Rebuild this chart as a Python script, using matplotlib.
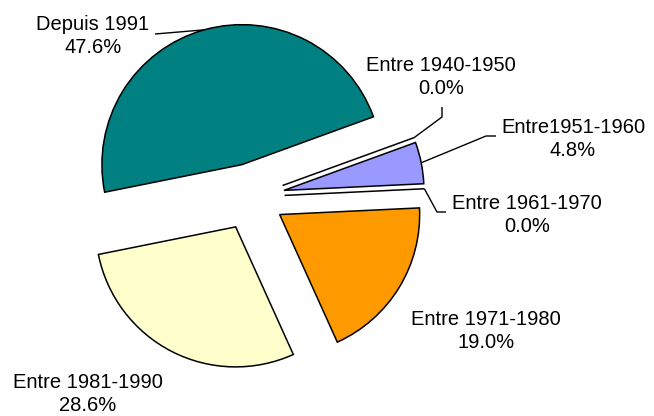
import numpy as np
import matplotlib
matplotlib.use("Agg")
import matplotlib.pyplot as plt

plt.rcParams['font.family'] = ['Liberation Sans', 'DejaVu Sans']

# Anteile je Baujahr (in %)
labels = ["Entre 1940-1950", "Entre1951-1960", "Entre 1961-1970",
          "Entre 1971-1980", "Entre 1981-1990", "Depuis 1991"]
values = [0.0, 4.8, 0.0, 19.0, 28.6, 47.6]
colors = ["#9999FF", "#9999FF", "#9999FF", "#FF9900", "#FFFFCC", "#008080"]

W, H = 654, 416
CX, CY, R = 251, 197, 140          # Mittelpunkt / Radius in Pixel
EXPL = 0.24                         # Explosion (Anteil vom Radius)
START = 20

def px(x, y):
    # Pixel -> Datenkoordinaten (Radius = 1)
    return (x - CX) / R, (CY - y) / R

fig = plt.figure(figsize=(W / 100, H / 100), dpi=100)
ax = fig.add_axes([0, 0, 1, 1])
wedges, _ = ax.pie(values, colors=colors, startangle=START, counterclock=False,
                   explode=[EXPL] * len(values), radius=1, center=(0, 0),
                   wedgeprops=dict(edgecolor="black", linewidth=1.1))
ax.set_xlim(px(0, 0)[0], px(W, 0)[0])
ax.set_ylim(px(0, H)[1], px(0, 0)[1])
ax.set_aspect('equal')
ax.axis('off')

# Randpunkt jedes Segments (Mitte des Bogens, mit Explosion)
fr = np.array(values) / sum(values)
theta = START - 360 * np.concatenate([[0], np.cumsum(fr)[:-1]])
mid = np.deg2rad(theta - 360 * fr / 2)
edge = [((1 + EXPL) * np.cos(m), (1 + EXPL) * np.sin(m)) for m in mid]

# Beschriftungen: Textmitte und Knickpunkte der Führungslinien (Pixel)
label_pos = [(441, 77), (573, 139), (527, 215), (486, 331), (88, 394), (93, 36)]
leaders = [[(442, 117), (442, 107)],
           [(486, 136), (496, 136)],
           [(437, 212), (446, 212)],
           None,
           None,
           [(155, 34)]]

for i, (lab, val) in enumerate(zip(labels, values)):
    tx, ty = px(*label_pos[i])
    ax.text(tx, ty, f"{lab}\n{val:.1f}%", ha='center', va='center',
            multialignment='center', fontsize=14.5, linespacing=1.3)
    if leaders[i] is not None:
        pts = [edge[i]] + [px(*p) for p in leaders[i]]
        xs, ys = zip(*pts)
        ax.plot(xs, ys, color='black', lw=1.0, solid_capstyle='butt')

plt.savefig("out.png", dpi=100)
